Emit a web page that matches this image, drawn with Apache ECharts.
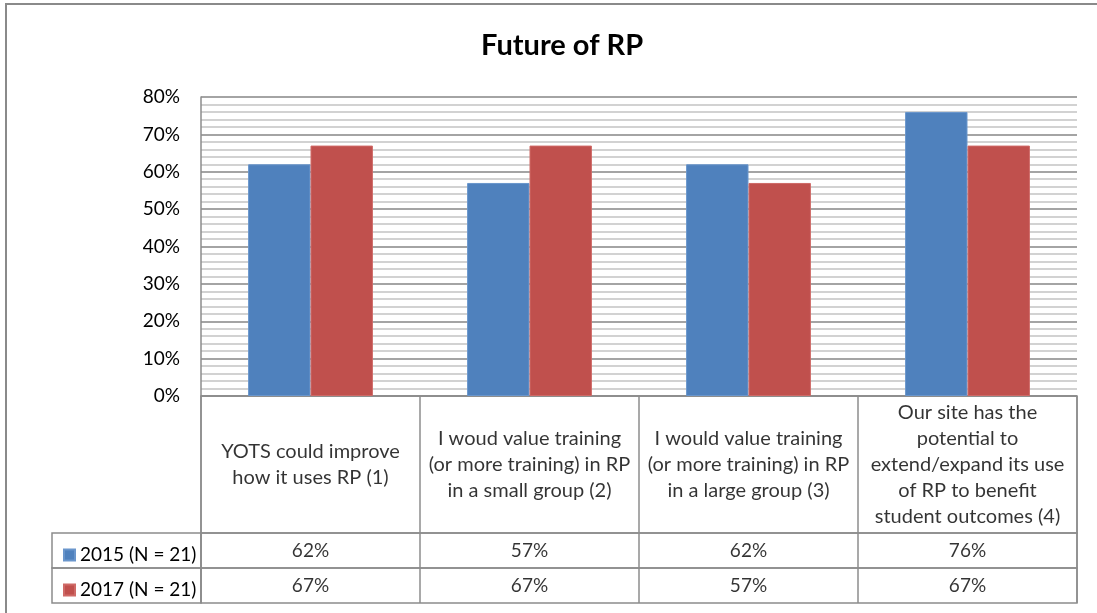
<!DOCTYPE html>
<html>
<head>
<meta charset="utf-8">
<title>Future of RP</title>
<script src="https://cdn.jsdelivr.net/npm/echarts@6/dist/echarts.min.js"></script>
<style>
  html, body { margin: 0; padding: 0; background: #fff; overflow: hidden; }
  #chart { width: 1097px; height: 613px; }
</style>
</head>
<body>
<div id="chart"></div>
<script>
// chart data
const categories = [
  'YOTS could improve\nhow it uses RP (1)',
  'I woud value training\n(or more training) in RP\nin a small group (2)',
  'I would value training\n(or more training) in RP\nin a large group (3)',
  'Our site has the\npotential to\nextend/expand its use\nof RP to benefit\nstudent outcomes (4)'
]
const seriesNames = ['2015 (N = 21)', '2017 (N = 21)']
const values2015 = [62, 57, 62, 76]
const values2017 = [67, 67, 57, 67]
const yTicks = [0, 10, 20, 30, 40, 50, 60, 70, 80]

const FONT = 'Lato'
const LINE = '#8c8c8c'

const chart = echarts.init(document.getElementById('chart'))

// one grid per table row, sharing the plot's columns
function rowGrid(top, height) {
  return { left: 201, right: 20, top: top, height: height, show: true, borderColor: LINE, borderWidth: 1.5, backgroundColor: 'transparent' }
}
function tableXAxis(gridIndex) {
  return {
    type: 'category', gridIndex: gridIndex, data: categories, boundaryGap: true,
    axisLine: { show: false }, axisTick: { show: false }, axisLabel: { show: false },
    splitLine: { show: true, interval: 0, lineStyle: { color: LINE, width: 1.5 } }
  }
}
function tableYAxis(gridIndex) {
  return { type: 'value', gridIndex: gridIndex, min: 0, max: 1, show: false }
}
function textSeries(idx, data, formatter, size) {
  return {
    type: 'scatter', xAxisIndex: idx, yAxisIndex: idx, symbolSize: 0, silent: true,
    data: data,
    label: {
      show: true, position: 'inside', formatter: formatter,
      color: '#000', fontFamily: FONT, fontSize: size, lineHeight: 26, align: 'center', verticalAlign: 'middle'
    }
  }
}

chart.setOption({
  animation: false,
  title: {
    text: 'Future of RP', left: 476, top: 26,
    textStyle: { fontFamily: FONT, fontWeight: 'bold', fontSize: 29, color: '#000' }
  },
  legend: {
    orient: 'vertical', left: 58, top: 540, itemGap: 15,
    icon: 'rect', itemWidth: 11, itemHeight: 11,
    selectedMode: false,
    textStyle: { fontFamily: FONT, fontSize: 19, lineHeight: 20, color: '#000' },
    data: seriesNames
  },
  graphic: [{
    type: 'rect', silent: true,
    shape: { x: 6, y: 4, width: 1200, height: 700 },
    style: { fill: 'none', stroke: '#8a8a8a', lineWidth: 2 }
  }],
  grid: [
    { left: 201, right: 20, top: 97, height: 299 },
    rowGrid(396, 137),
    rowGrid(533, 35),
    rowGrid(568, 35),
    { left: 52, width: 149, top: 533, height: 35, show: true, borderColor: LINE, borderWidth: 1.5 },
    { left: 52, width: 149, top: 568, height: 35, show: true, borderColor: LINE, borderWidth: 1.5 }
  ],
  xAxis: [
    {
      type: 'category', gridIndex: 0, data: categories,
      axisLine: { show: false }, axisTick: { show: false }, axisLabel: { show: false }
    },
    tableXAxis(1), tableXAxis(2), tableXAxis(3),
    { type: 'category', gridIndex: 4, data: [''], show: false },
    { type: 'category', gridIndex: 5, data: [''], show: false }
  ],
  yAxis: [
    {
      type: 'value', gridIndex: 0, min: yTicks[0], max: yTicks[yTicks.length - 1], interval: 10,
      axisLine: { show: true, lineStyle: { color: LINE, width: 1.5 } },
      axisTick: { show: false },
      axisLabel: { formatter: '{value}%', color: '#000', fontFamily: FONT, fontSize: 19, margin: 21 },
      splitLine: { show: true, lineStyle: { color: '#868686', width: 1.5 } },
      minorTick: { show: false, splitNumber: 5 },
      minorSplitLine: { show: true, lineStyle: { color: '#c4c4c4', width: 1.5 } }
    },
    tableYAxis(1), tableYAxis(2), tableYAxis(3),
    { type: 'value', gridIndex: 4, show: false },
    { type: 'value', gridIndex: 5, show: false }
  ],
  series: [
    {
      name: seriesNames[0], type: 'bar', xAxisIndex: 0, yAxisIndex: 0,
      data: values2015, barGap: '0%', barCategoryGap: '43%',
      itemStyle: { color: '#4f81bd', borderColor: '#6a96cc', borderWidth: 1 }
    },
    {
      name: seriesNames[1], type: 'bar', xAxisIndex: 0, yAxisIndex: 0,
      data: values2017, barGap: '0%', barCategoryGap: '43%',
      itemStyle: { color: '#c0504d', borderColor: '#cf6a67', borderWidth: 1 }
    },
    textSeries(1, categories.map(c => [c, 0.5]), p => p.value[0], 20),
    textSeries(2, values2015.map((v, i) => [categories[i], 0.5, v]), p => p.value[2] + '%', 19),
    textSeries(3, values2017.map((v, i) => [categories[i], 0.5, v]), p => p.value[2] + '%', 19)
  ]
})

window.addEventListener('resize', () => chart.resize())
</script>
</body>
</html>
